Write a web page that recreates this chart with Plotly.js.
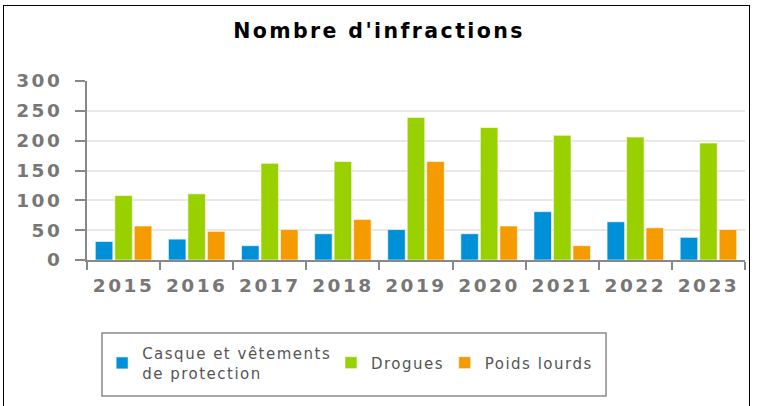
<!DOCTYPE html>
<html><head><meta charset="utf-8">
<script src="https://cdn.plot.ly/plotly-3.0.1.min.js"></script>
<style>
html,body{margin:0;padding:0;background:#fff;}
#frame{position:absolute;left:3px;top:5px;width:747px;height:420px;border:1px solid #000;box-sizing:border-box;}
#chart{position:absolute;left:0;top:0;width:758px;height:406px;}
.xtick text, .ytick text{letter-spacing:2.5px;}
.gtitle{letter-spacing:2.4px;}
.legendtext{letter-spacing:1.5px;}
</style></head>
<body>
<div id="frame"></div>
<div id="chart"></div>
<script>
const years = ['2015','2016','2017','2018','2019','2020','2021','2022','2023'];
const casque = [31, 35, 24, 44, 51, 44, 81, 64, 38];
const drogues = [108, 111, 162, 165, 239, 222, 209, 206, 196];
const poids = [57, 48, 51, 68, 165, 57, 24, 54, 51];
const seriesNames = ['Casque et vêtements<br>de protection', 'Drogues', 'Poids lourds'];
const colors = ['#0090d7', '#99d100', '#f59b00'];
const legendIds = ['legend', 'legend2', 'legend3'];

const data = [casque, drogues, poids].map((v, i) => ({
  type: 'bar', x: years, y: v, name: seriesNames[i], legend: legendIds[i],
  marker: {color: colors[i], line: {color: 'rgba(255,255,255,0.6)', width: 1}},
  hoverinfo: 'x+y'
}));

const legendBase = {
  orientation: 'h', xanchor: 'left', y: -0.575, yanchor: 'middle',
  borderwidth: 0, bgcolor: 'rgba(0,0,0,0)',
  font: {family: 'DejaVu Sans', size: 15, color: '#555'},
  itemclick: false, itemdoubleclick: false, valign: 'middle'
};

const layout = {
  width: 758, height: 406,
  margin: {l: 87, r: 13, t: 81, b: 146},
  paper_bgcolor: 'rgba(0,0,0,0)', plot_bgcolor: 'rgba(0,0,0,0)',
  title: {text: "Nombre d'infractions", font: {family: 'DejaVu Sans', size: 20.5, color: '#000', weight: 'bold'},
          x: 0.5, xanchor: 'center', xref: 'container', y: 0.925, yanchor: 'middle', yref: 'container'},
  barmode: 'group', bargap: 0.2, bargroupgap: 0.1,
  xaxis: {
    type: 'category', tickson: 'boundaries', ticks: 'outside', ticklen: 8, tickcolor: '#888', tickwidth: 2,
    showline: true, linecolor: '#888', linewidth: 2, showgrid: false,
    ticklabelstandoff: 8,
    tickfont: {family: 'DejaVu Sans', size: 18.5, color: '#777', weight: 'bold'},
    fixedrange: true
  },
  yaxis: {
    range: [0, 300], tickvals: [0, 50, 100, 150, 200, 250, 300],
    ticks: 'outside', ticklen: 10, tickcolor: '#888', tickwidth: 2,
    showline: true, linecolor: '#888', linewidth: 2,
    showgrid: true, gridcolor: '#e8e8e8', gridwidth: 2, zeroline: false,
    ticklabelstandoff: 9,
    tickfont: {family: 'DejaVu Sans', size: 18.5, color: '#777', weight: 'bold'},
    fixedrange: true
  },
  shapes: [{
    type: 'rect', xref: 'paper', yref: 'paper',
    x0: 0.0228, x1: 0.7888, y0: -0.760, y1: -0.4078,
    line: {color: '#8a8a8a', width: 1.5}, fillcolor: 'rgba(0,0,0,0)', layer: 'above'
  }],
  showlegend: true,
  legend: Object.assign({}, legendBase, {x: 0.023}),
  legend2: Object.assign({}, legendBase, {x: 0.3708}),
  legend3: Object.assign({}, legendBase, {x: 0.5436})
};
function spaceLegends() {
  const root = document.getElementById('chart');
  root.querySelectorAll('g.infolayer text').forEach(t => {
    if (t.closest('[class^="legend"]') || t.classList.contains('legendtext')) {
      t.style.setProperty('letter-spacing', '1.5px', 'important');
    }
  });
  root.querySelectorAll('g.infolayer [clip-path]').forEach(g => {
    if (g.closest('[class^="legend"]')) g.removeAttribute('clip-path');
  });
}
Plotly.newPlot('chart', data, layout, {displayModeBar: false, staticPlot: true}).then(spaceLegends);
</script>
</body></html>
